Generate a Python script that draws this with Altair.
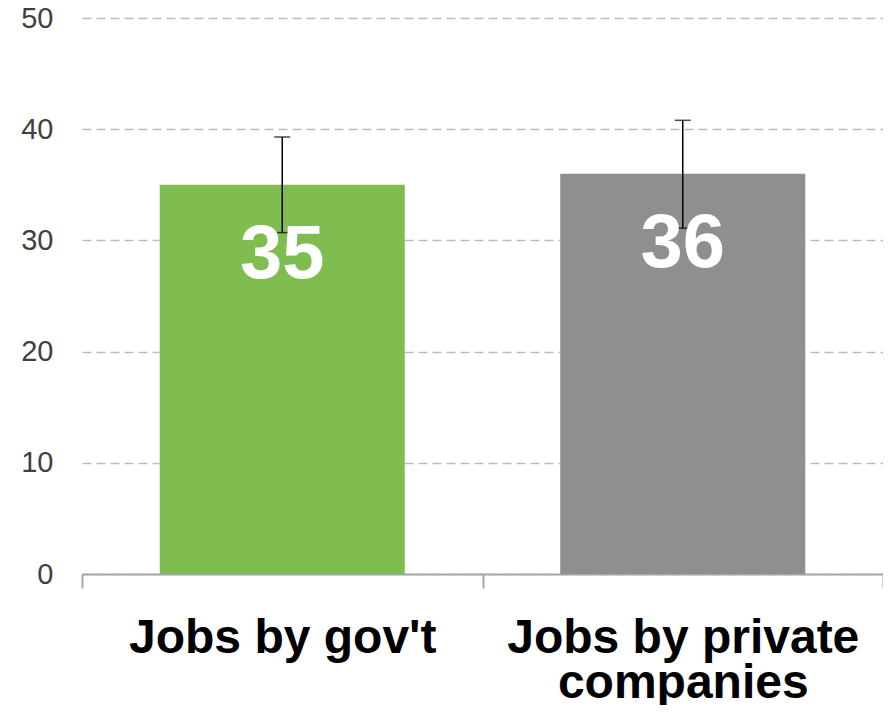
import altair as alt
import pandas as pd

categories = ["Jobs by gov't", "Jobs by private companies"]
values = [35, 36]
err_low = [30.7, 31.1]
err_high = [39.3, 40.8]
bar_colors = ["#7fbd50", "#8f8f8f"]

df = pd.DataFrame({
    "cat": categories,
    "value": values,
    "lo": err_low,
    "hi": err_high,
    "color": bar_colors,
})

x = alt.X(
    "cat:N",
    sort=categories,
    scale=alt.Scale(paddingInner=0, paddingOuter=0),
    axis=alt.Axis(
        title=None,
        labelAngle=0,
        tickBand="extent",
        ticks=True,
        tickSize=14,
        tickWidth=2,
        tickColor="#a6a6a6",
        domainColor="#a6a6a6",
        domainWidth=2,
        labelFont="Liberation Sans",
        labelFontSize=48,
        labelFontWeight="bold",
        labelColor="#000000",
        labelPadding=26,
        labelBaseline="top",
        labelLineHeight=45,
        labelLimit=0,
        labelExpr="datum.value == 'Jobs by private companies' ? ['Jobs by private', 'companies'] : datum.label",
        grid=False,
    ),
)

y = alt.Y(
    "value:Q",
    scale=alt.Scale(domain=[0, 50]),
    axis=alt.Axis(
        title=None,
        values=[0, 10, 20, 30, 40, 50],
        domain=False,
        ticks=False,
        labelFont="Liberation Sans",
        labelFontSize=29,
        labelColor="#404040",
        labelPadding=29,
        grid=True,
        gridColor="#bdbdbd",
        gridDash=[9, 5],
        gridWidth=1.5,
    ),
)

bars = alt.Chart(df).mark_bar(size=245).encode(
    x=x,
    y=y,
    color=alt.Color("color:N", scale=None),
)

labels = alt.Chart(df).mark_text(
    font="Liberation Sans",
    fontSize=76,
    fontWeight="bold",
    color="white",
    baseline="alphabetic",
    align="center",
    dy=93,
).encode(
    x=alt.X("cat:N", sort=categories),
    y="value:Q",
    text="value:Q",
)

rules = alt.Chart(df).mark_rule(color="black", strokeWidth=1.5).encode(
    x=alt.X("cat:N", sort=categories),
    y="lo:Q",
    y2="hi:Q",
)

caps = alt.Chart(df).transform_fold(["lo", "hi"], as_=["k", "v"]).mark_tick(
    color="black", thickness=1.5, size=16, orient="horizontal"
).encode(
    x=alt.X("cat:N", sort=categories),
    y="v:Q",
)

chart = alt.layer(bars, rules, caps, labels).properties(
    width=801,
    height=556,
    autosize=alt.AutoSizeParams(type="none"),
    padding={"left": 74, "top": 10, "right": 0, "bottom": 131},
).configure_view(stroke=None)

chart.save("out.html", embed_options={"renderer": "svg", "actions": False})
